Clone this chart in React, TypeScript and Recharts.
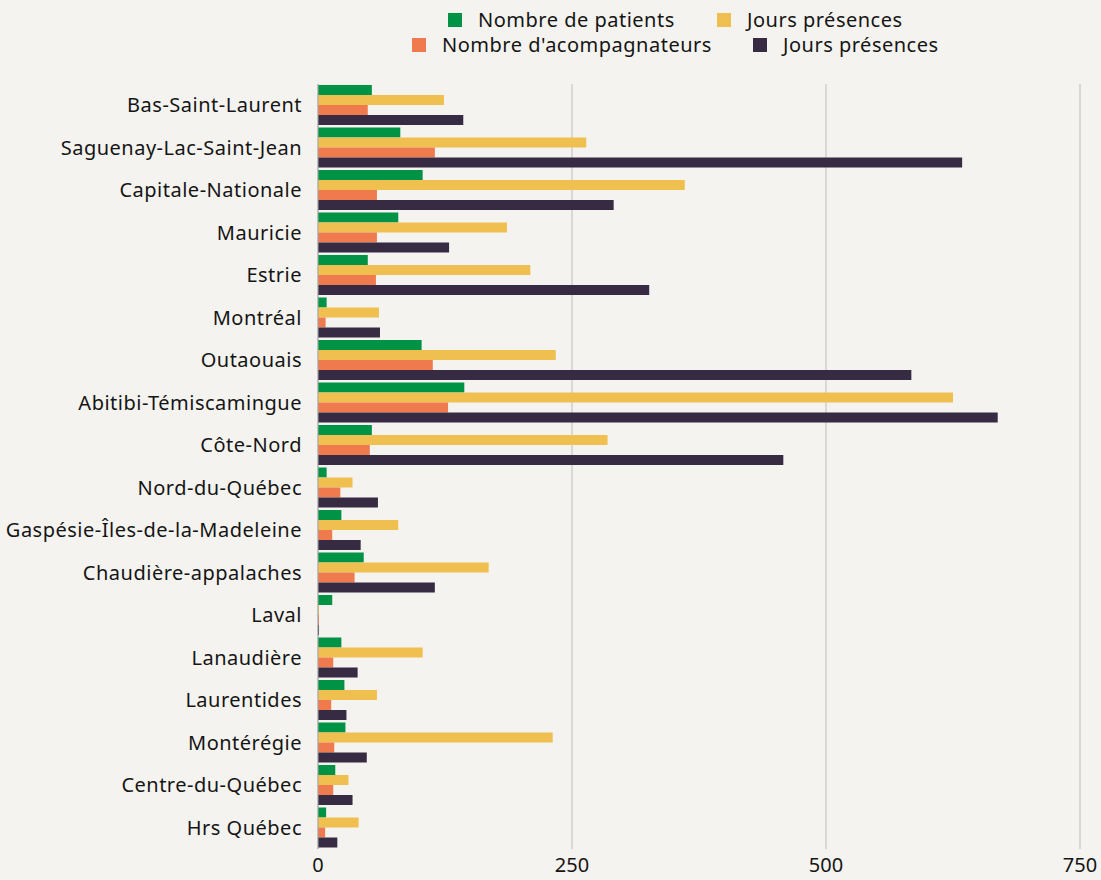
import React from 'react';
import { BarChart, Bar, XAxis, YAxis, CartesianGrid, Legend } from 'recharts';

const regions = [
  'Bas-Saint-Laurent', 'Saguenay-Lac-Saint-Jean', 'Capitale-Nationale', 'Mauricie', 'Estrie',
  'Montréal', 'Outaouais', 'Abitibi-Témiscamingue', 'Côte-Nord', 'Nord-du-Québec',
  'Gaspésie-Îles-de-la-Madeleine', 'Chaudière-appalaches', 'Laval', 'Lanaudière',
  'Laurentides', 'Montérégie', 'Centre-du-Québec', 'Hrs Québec',
];
const patients = [53, 81, 103, 79, 49, 8.5, 102, 144, 53, 8.5, 23, 45, 14, 23, 26, 27, 17, 8];
const joursPatients = [124, 264, 361, 186, 209, 60, 234, 625, 285, 34, 79, 168, 1, 103, 58, 231, 30, 40];
const accompagnateurs = [49, 115, 58, 58, 57, 7.5, 113, 128, 51, 22, 14, 36, 1, 15, 13, 16, 15, 7];
const joursAccompagnateurs = [143, 634, 291, 129, 326, 61, 584, 669, 458, 59, 42, 115, 1, 39, 28, 48, 34, 19];
const xTicks = [0, 250, 500, 750];

const series = [
  { key: 'patients', name: 'Nombre de patients', color: '#009245', values: patients },
  { key: 'joursPatients', name: 'Jours présences', color: '#EFC050', values: joursPatients },
  { key: 'accompagnateurs', name: "Nombre d'acompagnateurs", color: '#EE7A4E', values: accompagnateurs },
  { key: 'joursAccompagnateurs', name: 'Jours présences', color: '#372A43', values: joursAccompagnateurs },
];

const data = regions.map((r, i) => {
  const row: Record<string, string | number> = { region: r };
  series.forEach((s) => { row[s.key] = s.values[i]; });
  return row;
});

const FONT = "'Noto Sans', 'Open Sans', sans-serif";

// legend item placement: [left, centerY]
const legendPlacement = [
  [448, 20],
  [717, 20],
  [412, 45],
  [753, 45],
];

const renderLegend = () => (
  <div style={{ position: 'relative', width: 1101, height: 60, fontFamily: FONT, fontSize: 20, letterSpacing: 0.5, color: '#151515' }}>
    {series.map((s, i) => (
      <div
        key={s.key}
        style={{
          position: 'absolute',
          left: legendPlacement[i][0],
          top: legendPlacement[i][1] - 13,
          height: 26,
          lineHeight: '26px',
          display: 'flex',
          alignItems: 'center',
          whiteSpace: 'nowrap',
        }}
      >
        <span style={{ display: 'inline-block', width: 14, height: 14, background: s.color, marginRight: 16 }} />
        <span>{s.name}</span>
      </div>
    ))}
  </div>
);

export default function App() {
  return (
    <div style={{ position: 'absolute', left: 0, top: 0, width: 1101, height: 880, background: '#F4F3EF' }}>
      <BarChart
        width={1101}
        height={880}
        data={data}
        layout="vertical"
        margin={{ top: 84, right: 21, bottom: 1, left: 0 }}
        barCategoryGap={1}
        barGap={0}
      >
        <CartesianGrid horizontal={false} stroke="#BDBDBD" strokeWidth={1} />
        <XAxis
          type="number"
          domain={[0, 750]}
          ticks={xTicks}
          axisLine={false}
          tickLine={false}
          tickSize={0}
          tickMargin={9}
          height={30}
          tick={{ fill: '#151515', fontSize: 20, fontFamily: FONT }}
        />
        <YAxis
          type="category"
          dataKey="region"
          width={318}
          axisLine={{ stroke: '#A8A8A8' }}
          tickLine={false}
          tickSize={0}
          tickMargin={16}
          interval={0}
          tick={{ fill: '#151515', fontSize: 20, fontFamily: FONT, letterSpacing: 0.5 }}
        />
        <Legend
          layout="horizontal"
          verticalAlign="middle"
          align="center"
          content={renderLegend}
          wrapperStyle={{ top: 0, left: 0, width: 1101, height: 60 }}
        />
        {series.map((s) => (
          <Bar key={s.key} dataKey={s.key} name={s.name} fill={s.color} isAnimationActive={false} />
        ))}
      </BarChart>
    </div>
  );
}
